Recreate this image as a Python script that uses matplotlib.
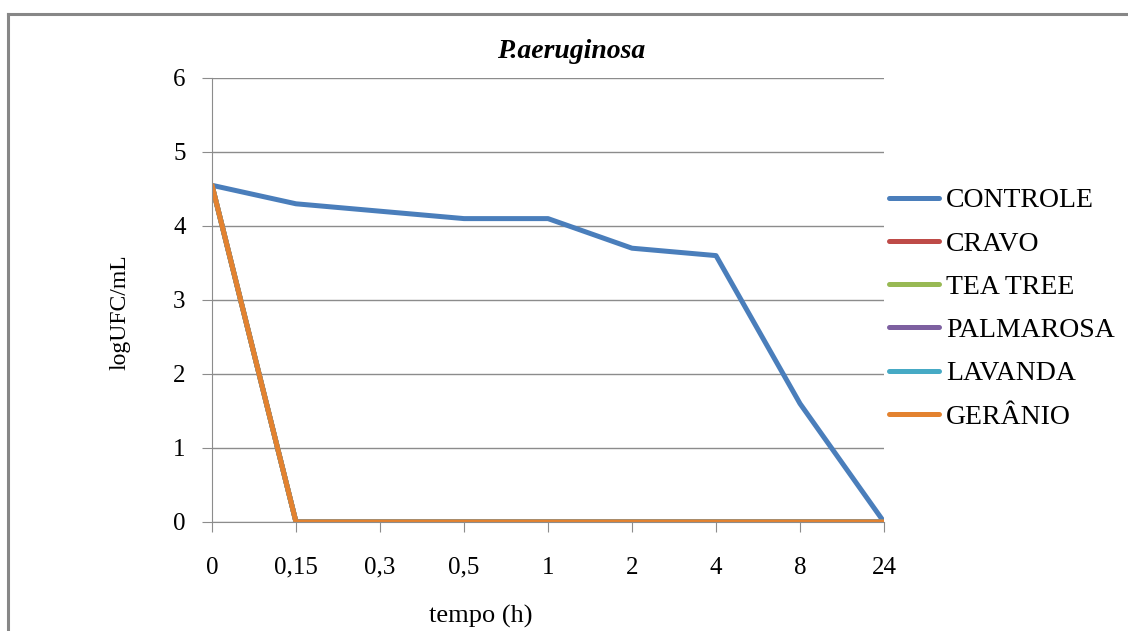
import matplotlib.pyplot as plt
from matplotlib.lines import Line2D

plt.rcParams['font.family'] = ['Liberation Serif', 'DejaVu Serif']

tempos = ['0', '0,15', '0,3', '0,5', '1', '2', '4', '8', '24']
controle = [4.55, 4.3, 4.2, 4.1, 4.1, 3.7, 3.6, 1.6, 0]
cravo = [4.55, 0, 0, 0, 0, 0, 0, 0, 0]
tea_tree = [4.55, 0, 0, 0, 0, 0, 0, 0, 0]
palmarosa = [4.55, 0, 0, 0, 0, 0, 0, 0, 0]
lavanda = [4.55, 0, 0, 0, 0, 0, 0, 0, 0]
geranio = [4.55, 0, 0, 0, 0, 0, 0, 0, 0]

series = [
    ('CONTROLE', controle, '#4A7EBB'),
    ('CRAVO', cravo, '#BE4B48'),
    ('TEA TREE', tea_tree, '#98B954'),
    ('PALMAROSA', palmarosa, '#7D60A0'),
    ('LAVANDA', lavanda, '#46AAC5'),
    ('GERÂNIO', geranio, '#E3822F'),
]

W, H = 1128, 631
fig = plt.figure(figsize=(W / 100, H / 100), dpi=100)
ax = fig.add_axes([212 / W, 1 - 522 / H, (884 - 212) / W, (522 - 78) / H])

x = range(len(tempos))
for nome, vals, cor in series:
    ax.plot(x, vals, color=cor, lw=3.6, solid_capstyle='round', solid_joinstyle='round', label=nome)

grid_c = '#8C8C8C'
ax.set_ylim(0, 6)
ax.set_xlim(0, len(tempos) - 1)
ax.set_yticks(range(7))
ax.set_xticks(list(x))
ax.set_xticklabels(tempos)
ax.yaxis.grid(True, color=grid_c, lw=1)
ax.set_axisbelow(True)
for s in ['top', 'right']:
    ax.spines[s].set_visible(False)
for s in ['left', 'bottom']:
    ax.spines[s].set_color(grid_c)
ax.tick_params(axis='both', direction='out', length=7, color=grid_c, labelsize=18)
ax.tick_params(axis='x', pad=18)
ax.tick_params(axis='y', pad=12)

# títulos posicionados em relação à figura
fig.text(571 / W, 1 - 52 / H, 'P.aeruginosa', fontsize=20, fontweight='bold',
         fontstyle='italic', ha='center', va='center')
fig.text(120 / W, 1 - 312 / H, 'logUFC/mL', fontsize=17, rotation=90,
         ha='center', va='center')
fig.text(481 / W, 1 - 616 / H, 'tempo (h)', fontsize=19, ha='center', va='center')

handles = [Line2D([], [], color=c, lw=3.6, solid_capstyle='round') for _, _, c in series]
fig.legend(handles, [n for n, _, _ in series], loc='upper left',
           bbox_to_anchor=(889 / W, 1 - 188 / H), frameon=False, fontsize=20,
           handlelength=1.8, handletextpad=0.25, labelspacing=0.64,
           borderpad=0, borderaxespad=0)

# moldura da área do gráfico
fig.add_artist(Line2D([8 / W, 1], [1 - 14 / H] * 2, transform=fig.transFigure,
                      color='#878787', lw=2.2))
fig.add_artist(Line2D([8 / W] * 2, [0, 1 - 14 / H], transform=fig.transFigure,
                      color='#878787', lw=2.2))

fig.savefig('out.png', dpi=100)
